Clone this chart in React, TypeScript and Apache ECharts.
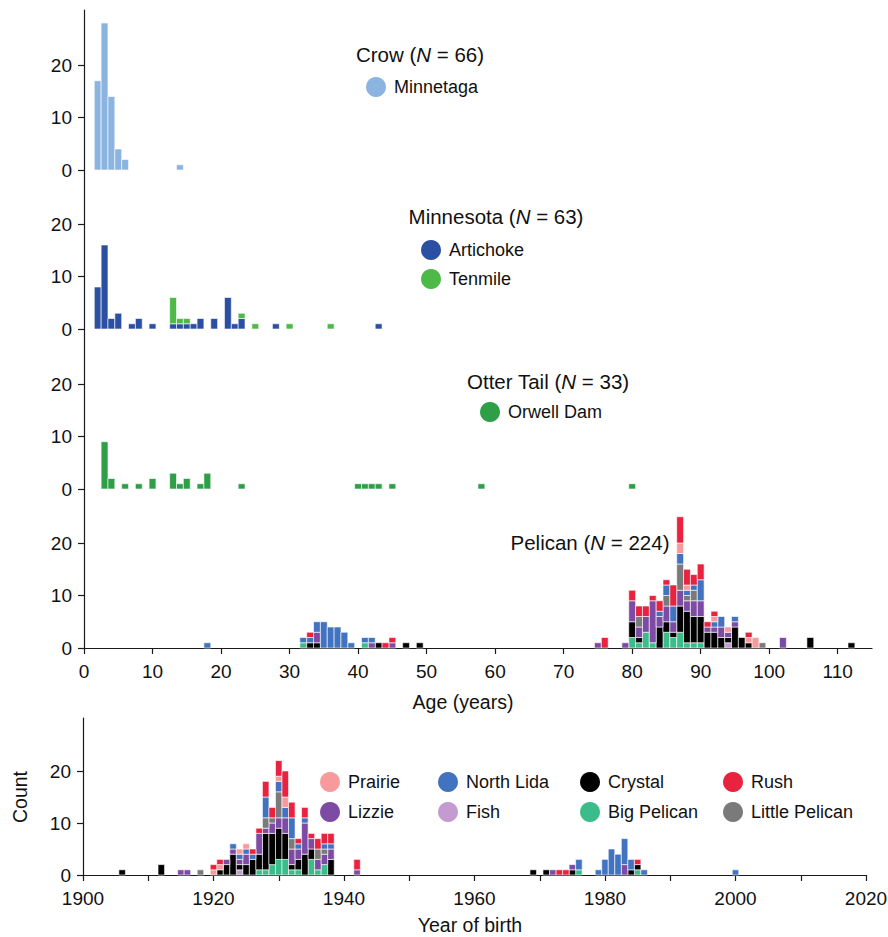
import React, { useEffect, useRef } from 'react';
import * as echarts from 'echarts';

const FONT = '"Liberation Sans", Arial, Helvetica, sans-serif';

// ---------- Age panels (age in years, count) ----------
const crowMinnetaga: [number, number][] = [[2, 17], [3, 28], [4, 14], [5, 4], [6, 2], [14, 1]];

const mnArtichoke: [number, number][] = [[2, 8], [3, 16], [4, 2], [5, 3], [7, 1], [8, 2], [10, 1], [13, 1], [14, 1], [15, 1], [16, 1], [17, 2], [19, 2], [21, 6], [22, 1], [23, 2], [28, 1], [43, 1]];
const mnTenmile: [number, number][] = [[13, 5], [14, 1], [15, 1], [23, 1], [25, 1], [30, 1], [36, 1]];

const otOrwellDam: [number, number][] = [[3, 9], [4, 2], [6, 1], [8, 1], [10, 2], [13, 3], [14, 1], [15, 2], [17, 1], [18, 3], [23, 1], [40, 1], [41, 1], [42, 1], [43, 1], [45, 1], [58, 1], [80, 1]];

const ageBigPelican: [number, number][] = [[32, 1], [41, 1], [80, 2], [81, 1], [82, 3], [83, 1], [85, 3], [86, 2], [87, 3], [88, 1], [89, 1], [90, 1]];
const ageFish: [number, number][] = [[94, 1]];
const ageCrystal: [number, number][] = [[33, 1], [34, 1], [43, 1], [47, 1], [49, 1], [80, 3], [81, 1], [84, 4], [85, 2], [86, 1], [87, 5], [88, 6], [89, 5], [90, 5], [91, 3], [92, 3], [93, 2], [94, 1], [95, 4], [96, 2], [97, 1], [106, 2], [112, 1]];
const ageLizzie: [number, number][] = [[34, 2], [42, 1], [45, 1], [75, 1], [79, 1], [80, 4], [81, 2], [82, 3], [83, 8], [84, 2], [85, 3], [86, 2], [87, 3], [88, 2], [89, 3], [90, 3], [91, 1], [92, 1], [93, 2], [94, 1], [95, 1], [102, 2]];
const ageLittlePelican: [number, number][] = [[81, 2], [85, 2], [87, 5], [88, 1], [89, 2], [99, 1]];
const ageNorthLida: [number, number][] = [[18, 1], [32, 1], [33, 1], [34, 2], [35, 5], [36, 4], [37, 4], [38, 3], [39, 1], [41, 1], [42, 1], [84, 1], [85, 2], [86, 3], [87, 2], [88, 1], [89, 1], [90, 4], [92, 1], [93, 2], [95, 1]];
const agePrairie: [number, number][] = [[87, 2], [88, 1], [92, 1], [94, 1], [97, 1], [98, 2]];
const ageRush: [number, number][] = [[33, 1], [44, 1], [45, 1], [76, 2], [80, 2], [81, 2], [82, 2], [83, 1], [84, 2], [85, 1], [86, 4], [87, 5], [88, 3], [89, 2], [90, 3], [91, 1], [92, 1], [97, 1]];

// ---------- Year-of-birth panel (year, count) ----------
const birthBigPelican: [number, number][] = [[1927, 1], [1928, 1], [1929, 2], [1930, 3], [1931, 3], [1932, 1], [1933, 1], [1935, 3], [1936, 1], [1937, 2], [1976, 1], [1985, 1]];
const birthFish: [number, number][] = [[1924, 1]];
const birthCrystal: [number, number][] = [[1906, 1], [1912, 2], [1921, 1], [1922, 2], [1923, 4], [1924, 1], [1925, 2], [1926, 3], [1927, 3], [1928, 7], [1929, 6], [1930, 6], [1931, 5], [1932, 1], [1933, 2], [1934, 4], [1935, 2], [1938, 3], [1969, 1], [1971, 1], [1975, 1], [1984, 1], [1985, 1]];
const birthLizzie: [number, number][] = [[1915, 1], [1916, 1], [1922, 1], [1923, 1], [1924, 1], [1925, 2], [1927, 4], [1928, 1], [1929, 2], [1930, 2], [1931, 3], [1932, 3], [1933, 2], [1934, 6], [1935, 2], [1936, 2], [1937, 2], [1938, 2], [1942, 1], [1972, 1], [1975, 1], [1983, 2]];
const birthLittlePelican: [number, number][] = [[1918, 1], [1928, 2], [1929, 1], [1930, 5], [1932, 2], [1936, 2], [1937, 1]];
const birthNorthLida: [number, number][] = [[1923, 1], [1924, 1], [1925, 1], [1926, 1], [1928, 4], [1930, 2], [1931, 2], [1932, 4], [1933, 1], [1934, 1], [1937, 1], [1938, 1], [1976, 2], [1979, 1], [1980, 3], [1981, 5], [1982, 4], [1983, 5], [1984, 2], [1986, 1], [2000, 1]];
const birthPrairie: [number, number][] = [[1920, 1], [1921, 1], [1924, 1], [1925, 1], [1930, 1], [1931, 2]];
const birthRush: [number, number][] = [[1920, 1], [1921, 1], [1926, 1], [1927, 1], [1928, 3], [1929, 2], [1930, 3], [1931, 5], [1932, 3], [1933, 1], [1934, 2], [1935, 1], [1936, 2], [1937, 2], [1938, 2], [1942, 2], [1973, 1], [1974, 1], [1985, 1]];

// ---------- Ticks ----------
const ageTicks = [0, 10, 20, 30, 40, 50, 60, 70, 80, 90, 100, 110];
const yearTicks = [1900, 1910, 1920, 1930, 1940, 1950, 1960, 1970, 1980, 1990, 2000, 2010, 2020];
const yearLabels = [1900, 1920, 1940, 1960, 1980, 2000, 2020];
const countTicks = [0, 10, 20];

// ---------- Names & colours ----------
const pelicanLakes = ['Big Pelican', 'Fish', 'Crystal', 'Lizzie', 'Little Pelican', 'North Lida', 'Prairie', 'Rush'];
const pelicanColors = ['#3bbd8b', '#c39bd1', '#000000', '#7d4ba3', '#7a7a7a', '#4273c0', '#f79a9c', '#e8223f'];
const pelicanAge = [ageBigPelican, ageFish, ageCrystal, ageLizzie, ageLittlePelican, ageNorthLida, agePrairie, ageRush];
const pelicanBirth = [birthBigPelican, birthFish, birthCrystal, birthLizzie, birthLittlePelican, birthNorthLida, birthPrairie, birthRush];

const C_MINNETAGA = '#8cb4e0';
const C_ARTICHOKE = '#2b4fa2';
const C_TENMILE = '#4dba48';
const C_ORWELL = '#2e9e47';

type Group = { name: string; color: string; pairs: [number, number][] };

// Stacked histogram segments: each item = [x, base, top]; drawn through the grid's own axes.
function stackSeries(groups: Group[], gi: number) {
  const base = new Map<number, number>();
  return groups.map((g) => {
    const data = g.pairs.map(([x, v]) => {
      const b = base.get(x) || 0;
      base.set(x, b + v);
      return [x, b, b + v];
    });
    const color = g.color;
    return {
      type: 'custom',
      name: g.name,
      xAxisIndex: gi,
      yAxisIndex: gi,
      silent: true,
      encode: { x: 0, y: [1, 2] },
      data,
      renderItem: (params: any, api: any) => {
        const x = api.value(0);
        const y0 = api.value(1);
        const y1 = api.value(2);
        const p0 = api.coord([x - 0.5, y0]);
        const p1 = api.coord([x + 0.5, y1]);
        return {
          type: 'rect',
          shape: { x: p0[0], y: p1[1], width: p1[0] - p0[0], height: p0[1] - p1[1] },
          style: { fill: color, stroke: '#ffffff', lineWidth: 0.6 },
        };
      },
    };
  });
}

const AX = '#1a1a1a';
const TXT = '#111';

export default function App() {
  const ref = useRef<HTMLDivElement>(null);

  useEffect(() => {
    if (!ref.current) return;
    const chart = echarts.init(ref.current, undefined, { renderer: 'svg' });

    const ageLeft = 84;
    const ageWidth = 788;
    const ageMax = 115;
    const yrLeft = 83;
    const yrWidth = 783;

    const panels = [
      { top: 10, height: 160 },
      { top: 170, height: 159 },
      { top: 329, height: 160 },
      { top: 489, height: 159 },
    ];
    const unit = 5.25;

    const grids: any[] = panels.map((p) => ({ left: ageLeft, top: p.top, width: ageWidth, height: p.height, containLabel: false, outerBoundsMode: 'none' }));
    grids.push({ left: yrLeft, top: 718, width: yrWidth, height: 157, containLabel: false, outerBoundsMode: 'none' });

    const axisLine = { show: true, onZero: false, lineStyle: { color: AX, width: 1.2 } };
    const axisTickBase = { show: true, length: 6, lineStyle: { color: AX, width: 1.2 } };
    const labelBase = { color: TXT, fontSize: 19, fontFamily: FONT };

    const xAxes: any[] = panels.map((_, i) => ({
      type: 'value',
      gridIndex: i,
      min: 0,
      max: ageMax,
      interval: 10,
      show: i === 3,
      axisLine,
      axisTick: { ...axisTickBase, customValues: ageTicks },
      axisLabel: { ...labelBase, margin: 14, customValues: ageTicks, formatter: (v: number) => (v % 10 === 0 ? String(v) : '') },
      splitLine: { show: false },
    }));
    xAxes.push({
      type: 'value',
      gridIndex: 4,
      min: 1900,
      max: 2020,
      interval: 10,
      axisLine,
      axisTick: { ...axisTickBase, customValues: yearTicks },
      axisLabel: { ...labelBase, margin: 14, customValues: yearLabels, formatter: (v: number) => (v % 20 === 0 ? String(v) : '') },
      splitLine: { show: false },
    });

    const yAxes: any[] = panels.map((p, i) => ({
      type: 'value',
      gridIndex: i,
      min: 0,
      max: p.height / unit,
      interval: 10,
      axisLine,
      axisTick: { ...axisTickBase, customValues: countTicks },
      axisLabel: { ...labelBase, margin: 12, customValues: countTicks, formatter: (v: number) => (v <= 20 ? String(v) : '') },
      splitLine: { show: false },
    }));
    yAxes.push({
      type: 'value',
      gridIndex: 4,
      min: 0,
      max: 157 / 5.2,
      interval: 10,
      axisLine,
      axisTick: { ...axisTickBase, customValues: countTicks },
      axisLabel: { ...labelBase, margin: 12, customValues: countTicks, formatter: (v: number) => (v <= 20 ? String(v) : '') },
      splitLine: { show: false },
    });

    const series: any[] = [
      ...stackSeries([{ name: 'Minnetaga', color: C_MINNETAGA, pairs: crowMinnetaga }], 0),
      ...stackSeries(
        [
          { name: 'Artichoke', color: C_ARTICHOKE, pairs: mnArtichoke },
          { name: 'Tenmile', color: C_TENMILE, pairs: mnTenmile },
        ],
        1
      ),
      ...stackSeries([{ name: 'Orwell Dam', color: C_ORWELL, pairs: otOrwellDam }], 2),
      ...stackSeries(pelicanLakes.map((n, i) => ({ name: n, color: pelicanColors[i], pairs: pelicanAge[i] })), 3),
      ...stackSeries(pelicanLakes.map((n, i) => ({ name: n, color: pelicanColors[i], pairs: pelicanBirth[i] })), 4),
    ];

    const titleText = (x: number, y: number, pre: string, post: string) => ({
      type: 'text',
      x,
      y,
      silent: true,
      style: {
        text: `{a|${pre}}{i|N}{a|${post}}`,
        align: 'center',
        verticalAlign: 'middle',
        fontSize: 20.5,
        fontFamily: FONT,
        fill: TXT,
        rich: {
          a: { fontSize: 20.5, fontFamily: FONT, fill: TXT },
          i: { fontSize: 20.5, fontFamily: FONT, fontStyle: 'italic', fill: TXT },
        },
      },
    });
    const legendItem = (cx: number, cy: number, color: string, label: string) => [
      { type: 'circle', silent: true, shape: { cx, cy, r: 10 }, style: { fill: color } },
      {
        type: 'text',
        silent: true,
        x: cx + 18,
        y: cy,
        style: { text: label, align: 'left', verticalAlign: 'middle', fontSize: 18, fontFamily: FONT, fill: TXT },
      },
    ];
    const plainText = (x: number, y: number, text: string, rotation = 0) => ({
      type: 'text',
      silent: true,
      x,
      y,
      rotation,
      style: { text, align: 'center', verticalAlign: 'middle', fontSize: 19.5, fontFamily: FONT, fill: TXT },
    });

    const legendCols = [330, 448, 590, 733];
    const legendRows = [782, 812];
    const legendOrder = ['Prairie', 'North Lida', 'Crystal', 'Rush', 'Lizzie', 'Fish', 'Big Pelican', 'Little Pelican'];

    const graphic: any[] = [
      titleText(420, 54, 'Crow (', ' = 66)'),
      ...legendItem(376, 87, C_MINNETAGA, 'Minnetaga'),
      titleText(496, 216, 'Minnesota (', ' = 63)'),
      ...legendItem(431, 250, C_ARTICHOKE, 'Artichoke'),
      ...legendItem(431, 279, C_TENMILE, 'Tenmile'),
      titleText(548, 381, 'Otter Tail (', ' = 33)'),
      ...legendItem(490, 412, C_ORWELL, 'Orwell Dam'),
      titleText(590, 542, 'Pelican (', ' = 224)'),
      plainText(463, 702, 'Age (years)'),
      plainText(470, 925, 'Year of birth'),
      plainText(20, 797, 'Count', Math.PI / 2),
    ];
    legendOrder.forEach((n, k) => {
      const idx = pelicanLakes.indexOf(n);
      graphic.push(...legendItem(legendCols[k % 4], legendRows[Math.floor(k / 4)], pelicanColors[idx], n));
    });

    chart.setOption({
      animation: false,
      backgroundColor: '#ffffff',
      textStyle: { fontFamily: FONT },
      grid: grids,
      xAxis: xAxes,
      yAxis: yAxes,
      series,
      graphic,
    });

    return () => {
      chart.dispose();
    };
  }, []);

  return <div ref={ref} style={{ position: 'absolute', left: 0, top: 0, width: 888, height: 937 }} />;
}
